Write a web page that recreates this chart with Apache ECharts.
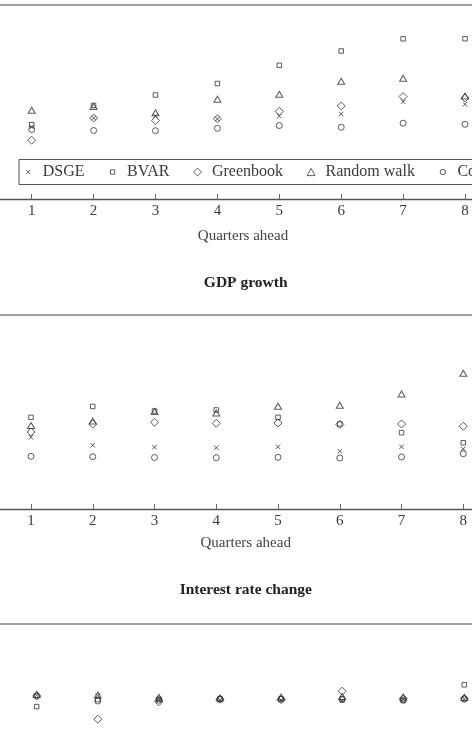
<!DOCTYPE html>
<html><head><meta charset="utf-8">
<script src="https://cdn.jsdelivr.net/npm/echarts@6/dist/echarts.min.js"></script>
<style>html,body{margin:0;padding:0;background:#fff}#c{width:472px;height:750px}</style>
</head><body><div id="c"></div>
<script>
const quarters = [1, 2, 3, 4, 5, 6, 7, 8];
const seriesNames = ['DSGE', 'BVAR', 'Greenbook', 'Random walk', 'Constant'];
const panelTitles = ['GDP growth', 'Interest rate change'];
const axisTitle = 'Quarters ahead';

// Panel 1: GDP growth
const gdpDSGE       = [1.485, 1.670, 1.711, 1.649, 1.711, 1.753, 2.004, 1.953];
const gdpBVAR       = [1.532, 1.928, 2.144, 2.381, 2.757, 3.052, 3.303, 3.305];
const gdpGreenbook  = [1.212, 1.670, 1.619, 1.654, 1.808, 1.918, 2.113, 2.082];
const gdpRandomWalk = [1.829, 1.907, 1.779, 2.056, 2.161, 2.427, 2.489, 2.124];
const gdpConstant   = [1.433, 1.412, 1.408, 1.458, 1.515, 1.480, 1.563, 1.540];

// Panel 2: Interest rate change
const irDSGE       = [0.739, 0.657, 0.637, 0.632, 0.641, 0.595, 0.642, 0.619];
const irBVAR       = [0.945, 1.057, 1.010, 1.021, 0.945, 0.876, 0.787, 0.683];
const irGreenbook  = [0.794, 0.876, 0.894, 0.883, 0.887, 0.871, 0.876, 0.853];
const irRandomWalk = [0.861, 0.907, 1.005, 0.990, 1.059, 1.069, 1.186, 1.399];
const irConstant   = [0.543, 0.539, 0.531, 0.529, 0.533, 0.526, 0.536, 0.570];

// Panel 3 (cropped)
const p3DSGE       = [1.258, 1.258, 1.213, 1.211, 1.211, 1.203, 1.216, 1.222];
const p3BVAR       = [1.144, 1.216, 1.220, 1.222, 1.222, 1.222, 1.206, 1.368];
const p3Greenbook  = [1.253, 1.013, 1.193, 1.220, 1.216, 1.302, 1.227, 1.227];
const p3RandomWalk = [1.268, 1.263, 1.240, 1.232, 1.242, 1.247, 1.242, 1.237];
const p3Constant   = [1.253, 1.201, 1.209, 1.220, 1.220, 1.216, 1.211, 1.222];

const panels = [
  [gdpDSGE, gdpBVAR, gdpGreenbook, gdpRandomWalk, gdpConstant],
  [irDSGE, irBVAR, irGreenbook, irRandomWalk, irConstant],
  [p3DSGE, p3BVAR, p3Greenbook, p3RandomWalk, p3Constant]
];

const SERIF = '"Liberation Serif", "DejaVu Serif", serif';
const INK = '#3a3a3a';
const symbols = [
  {symbol: 'path://M0,0L10,10M10,0L0,10', size: 4.5},
  {symbol: 'rect', size: 4.5},
  {symbol: 'diamond', size: 8},
  {symbol: 'triangle', size: [7, 6]},
  {symbol: 'circle', size: 6}
];
const legendIcons = [
  'path://M0,0M10,10M2.6,2.6L7.4,7.4M7.4,2.6L2.6,7.4',
  'path://M0,0M10,10M2.6,2.6H7.4V7.4H2.6Z',
  'path://M0,0M10,10M5,0.6L9.4,5L5,9.4L0.6,5Z',
  'path://M0,0M10,10M5,1L9.4,9L0.6,9Z',
  'path://M0,0M10,10M8,5A3,3,0,1,1,2,5A3,3,0,1,1,8,5Z'
];

const grids = [
  {left: 0, right: 0, top: 5, height: 194, outerBoundsMode: 'none', containLabel: false},
  {left: 0, right: 0, top: 315, height: 194, outerBoundsMode: 'none', containLabel: false},
  {left: 0, right: 0, top: 623.5, height: 194, outerBoundsMode: 'none', containLabel: false}
];
const xRanges = [[0.488, 8.113], [0.498, 8.141], [0.399, 8.126]];
const yMax = [4, 2, 2];

const xAxes = [], yAxes = [], series = [];
grids.forEach((g, i) => {
  xAxes.push({
    type: 'value', gridIndex: i, min: xRanges[i][0], max: xRanges[i][1],
    splitLine: {show: false},
    axisLine: {show: true, lineStyle: {color: '#555', width: 1.3}},
    axisTick: {show: true, inside: true, length: 5, lineStyle: {color: '#666'}, customValues: quarters},
    axisLabel: {show: true, margin: 5, color: INK, fontFamily: SERIF, fontSize: 15, customValues: quarters}
  });
  xAxes.push({
    type: 'value', gridIndex: i, position: 'top', min: xRanges[i][0], max: xRanges[i][1],
    splitLine: {show: false},
    axisLine: {show: true, lineStyle: {color: '#808080', width: 1.5}},
    axisTick: {show: false}, axisLabel: {show: false}
  });
  yAxes.push({type: 'value', gridIndex: i, min: 0, max: yMax[i], show: false});
  panels[i].forEach((vals, k) => {
    series.push({
      type: 'scatter', name: seriesNames[k], xAxisIndex: i * 2, yAxisIndex: i,
      symbol: symbols[k].symbol, symbolSize: symbols[k].size,
      itemStyle: {color: 'none', borderColor: '#333', borderWidth: 1},
      emphasis: {disabled: true},
      data: quarters.map((q, j) => [q, vals[j]])
    });
  });
});

const chart = echarts.init(document.getElementById('c'), null, {renderer: 'canvas'});
chart.setOption({
  animation: false,
  backgroundColor: '#fff',
  grid: grids,
  xAxis: xAxes,
  yAxis: yAxes,
  legend: {
    left: 19, top: 159.5, width: 800,
    orient: 'horizontal',
    padding: [4.5, 5, 4.5, 2.3],
    borderColor: '#555', borderWidth: 1,
    itemWidth: 9, itemHeight: 9, itemGap: 21,
    selectedMode: false,
    itemStyle: {color: 'none', borderColor: '#333', borderWidth: 1},
    textStyle: {fontFamily: SERIF, fontSize: 16, color: INK, padding: [0, 0, 0, 5]},
    data: seriesNames.map((n, k) => ({name: n, icon: legendIcons[k]}))
  },
  graphic: [
    {type: 'text', x: 243, y: 236, style: {text: axisTitle, font: '15px ' + SERIF, fill: '#444', align: 'center', verticalAlign: 'middle'}},
    {type: 'text', x: 245.7, y: 283.3, style: {text: panelTitles[0], font: 'bold 15.5px ' + SERIF, fill: '#222', align: 'center', verticalAlign: 'middle'}},
    {type: 'text', x: 245.7, y: 543.3, style: {text: axisTitle, font: '15px ' + SERIF, fill: '#444', align: 'center', verticalAlign: 'middle'}},
    {type: 'text', x: 245.8, y: 590, style: {text: panelTitles[1], font: 'bold 15.5px ' + SERIF, fill: '#222', align: 'center', verticalAlign: 'middle'}}
  ],
  series: series
});
</script></body></html>
